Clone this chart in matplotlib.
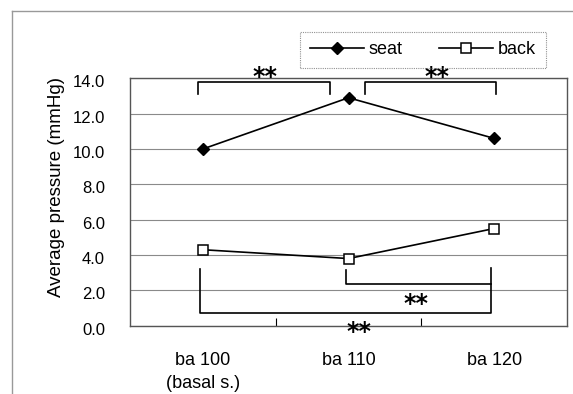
import matplotlib
matplotlib.use("Agg")
import matplotlib.pyplot as plt
from matplotlib.lines import Line2D
from matplotlib.transforms import ScaledTranslation

plt.rcParams['font.family'] = ['Liberation Sans', 'DejaVu Sans']

# data
categories = ["ba 100\n(basal s.)", "ba 110", "ba 120"]
seat = [10.0, 12.9, 10.6]
back = [4.3, 3.8, 5.5]
y_ticks = [0, 2, 4, 6, 8, 10, 12, 14]

# significance brackets: (x1, x2, y of bar, y of left end, y of right end)
brackets = [
    (-0.03, 0.87, 13.8, 13.1, 13.1),
    (1.11, 2.01, 13.8, 13.1, 13.1),
    (-0.02, 1.98, 0.70, 3.2, 3.25),
    (0.98, 1.98, 2.36, 3.15, 2.36),
]
# star labels: (x, y)
stars = [(0.43, 14.08), (1.61, 14.08), (1.46, 1.2), (1.07, -0.38)]

fig = plt.figure(figsize=(5.73, 3.94), dpi=100)
ax = fig.add_axes([130 / 573, 1 - 325.7 / 394, 437 / 573, 247.4 / 394])

x = range(len(categories))
ax.plot(x, seat, color='black', lw=1.2, marker='D', ms=6, mfc='black',
        mec='black', label='seat', zorder=3)
ax.plot(x, back, color='black', lw=1.2, marker='s', ms=6.5, mfc='white',
        mec='black', mew=1.1, label='back', zorder=3)

for x1, x2, yb, yl, yr in brackets:
    ax.plot([x1, x1, x2, x2], [yl, yb, yb, yr], color='black', lw=1.2,
            clip_on=False, zorder=2)
for sx, sy in stars:
    ax.text(sx, sy, '**', ha='center', va='center', fontsize=17,
            fontweight='bold', family='DejaVu Sans', clip_on=False, zorder=5)

ax.set_xlim(-0.5, 2.5)
ax.set_ylim(0, 14)
ax.set_yticks(y_ticks)
ax.set_yticklabels([f"{v:.1f}" for v in y_ticks], fontsize=12)
ax.set_xticks(list(x))
ax.set_xticklabels(categories, fontsize=13, linespacing=1.45)
ax.set_xticks([0.5, 1.5], minor=True)
ax.tick_params(axis='x', which='major', length=0, pad=19)
ax.tick_params(axis='x', which='minor', direction='in', length=6, width=0.8)
ax.tick_params(axis='y', length=0, pad=18)
shift = ScaledTranslation(0, -3 / 100, fig.dpi_scale_trans)
for lab in ax.get_yticklabels():
    lab.set_transform(lab.get_transform() + shift)

ax.yaxis.grid(True, color='#8a8a8a', lw=0.8)
ax.set_axisbelow(True)
for s in ax.spines.values():
    s.set_linestyle((0, (1, 1)))
    s.set_color('#555555')
    s.set_linewidth(1)

ax.set_ylabel("Average pressure (mmHg)", fontsize=13.5)
ax.yaxis.label.set_va('center')
ax.yaxis.set_label_coords(-0.169, 0.56)

leg = fig.legend(loc='center', bbox_to_anchor=(423 / 573, 1 - 50 / 394), ncol=2,
                 fontsize=13, handlelength=3.0, handletextpad=0.25,
                 columnspacing=2.0, borderpad=0.55, fancybox=False)
frame = leg.get_frame()
frame.set_linestyle((0, (1, 1)))
frame.set_edgecolor('#777777')
frame.set_facecolor('none')
frame.set_linewidth(0.8)
leg.set_zorder(1)

# outer chart frame
fig.add_artist(Line2D([12 / 573, 12 / 573], [0, 1 - 10.5 / 394], color='#999999', lw=1))
fig.add_artist(Line2D([12 / 573, 1], [1 - 10.5 / 394, 1 - 10.5 / 394], color='#999999', lw=1))

fig.savefig("out.png", dpi=100)
